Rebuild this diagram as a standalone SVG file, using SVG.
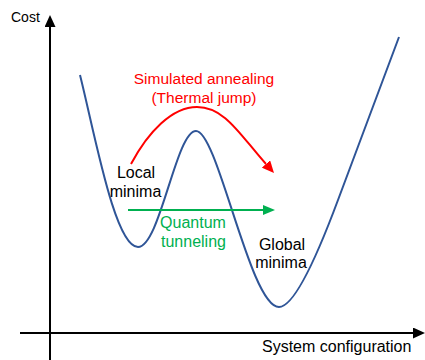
<svg xmlns="http://www.w3.org/2000/svg" width="425" height="360" viewBox="0 0 425 360">
<style>
text{font-family:"Liberation Sans",Arial,sans-serif;font-size:16px}
.blk{fill:#000}
.red{fill:#FF0000}
.grn{fill:#00B050}
.ax{stroke:#000;stroke-width:2;fill:none}
</style>
<defs>
<marker id="ah" markerUnits="userSpaceOnUse" markerWidth="12" markerHeight="11" refX="0" refY="5.5" orient="auto"><path d="M0,0 L12,5.5 L0,11 z" fill="#000"/></marker>
<marker id="ahr" markerUnits="userSpaceOnUse" markerWidth="12" markerHeight="11" refX="0" refY="5.5" orient="auto"><path d="M0,0 L12,5.5 L0,11 z" fill="#FF0000"/></marker>
<marker id="ahg" markerUnits="userSpaceOnUse" markerWidth="12" markerHeight="10" refX="0" refY="5" orient="auto"><path d="M0,0 L12,5 L0,10 z" fill="#00B050"/></marker>
</defs>
<rect width="425" height="360" fill="#fff"/>
<g id="axes">
<line class="ax" x1="50" y1="360" x2="50" y2="27" marker-end="url(#ah)"/>
<line class="ax" x1="20" y1="333" x2="413" y2="333" marker-end="url(#ah)"/>
<text x="11" y="22" class="blk" style="font-size:14px">Cost</text>
<text x="262" y="352" class="blk">System configuration</text>
</g>
<g id="curve">
<path d="M80,75 C95,135 115,247 138,247 C160,247 176,131 196,131 C218,131 250,307 279,307 C295,307 319,251 338,200 L399,37" fill="none" stroke="#2F5597" stroke-width="2"/>
</g>
<g id="connectors">
<path d="M131,164 C148,132 172,107 197,107 C225,107 240,135 266,164" fill="none" stroke="#FF0000" stroke-width="2" marker-end="url(#ahr)"/>
<line x1="128" y1="210" x2="263" y2="210" stroke="#00B050" stroke-width="2" marker-end="url(#ahg)"/>
</g>
<g id="annealing">
<text x="204" y="84" text-anchor="middle" class="red" style="font-size:15.5px">Simulated annealing</text>
<text x="204" y="103" text-anchor="middle" class="red" style="font-size:15.5px">(Thermal jump)</text>
</g>
<g id="local">
<text x="136" y="178" text-anchor="middle" class="blk">Local</text>
<text x="135.5" y="197" text-anchor="middle" class="blk">minima</text>
</g>
<g id="tunneling">
<text x="193" y="228" text-anchor="middle" class="grn">Quantum</text>
<text x="193.5" y="247" text-anchor="middle" class="grn">tunneling</text>
</g>
<g id="global">
<text x="282" y="250" text-anchor="middle" class="blk">Global</text>
<text x="281" y="268" text-anchor="middle" class="blk">minima</text>
</g>
</svg>
